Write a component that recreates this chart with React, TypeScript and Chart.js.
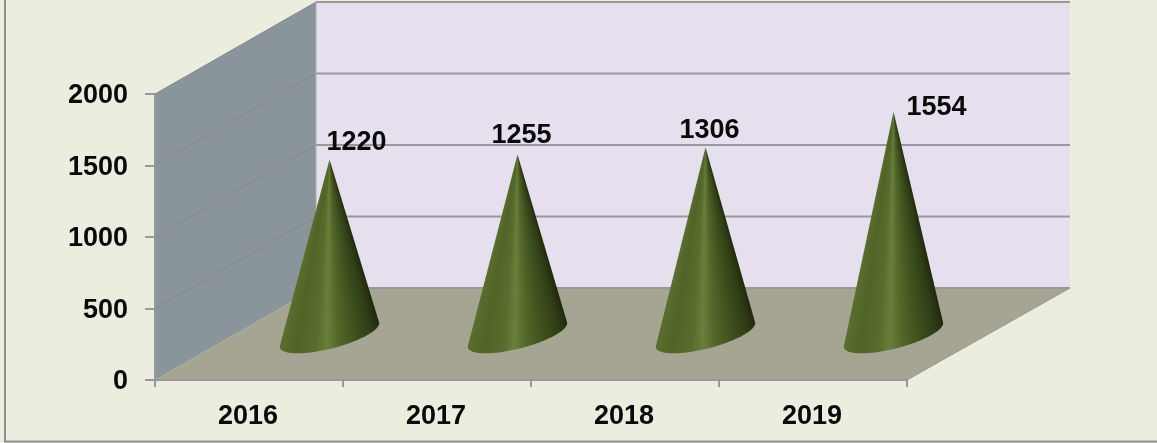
import React, { useEffect, useRef } from "react";
import { Chart, registerables } from "chart.js";

Chart.register(...registerables);

const categories = ["2016", "2017", "2018", "2019"];
const values = [1220, 1255, 1306, 1554];
const yTicks = [0, 500, 1000, 1500, 2000];
const labelOffsets = [[27, -17], [4, -19], [4, -17], [43, -4]];

const FONT = '"Liberation Sans", Arial, sans-serif';
const BG = "#ebeedf";
const BACK = "#e6e0ee";
const SIDE = "#89959b";
const FLOOR = "#a6a593";
const LINE = "#98979b";
const DEPTH_X = 161;
const DEPTH_Y = -92;
const CONE_DX = 80.5;
const CONE_DY = -46;
const LEFT = 155, RIGHT = 907, TOP = 94, BOTTOM = 380;

const coneStops: [number, string][] = [
  [0, "#20290c"], [0.1, "#2f3d15"], [0.3, "#42541f"], [0.45, "#546829"],
  [0.56, "#6a7f3b"], [0.66, "#586c2c"], [0.85, "#516428"], [1, "#5a6e2e"],
];

function drawCone(ctx: CanvasRenderingContext2D, ax: number, ay: number, cx: number, cy: number) {
  const ux = 38, vx = 32, vy = -18.3;
  const pts: [number, number][] = [];
  const N = 240;
  for (let i = 0; i < N; i++) {
    const t = (i / N) * Math.PI * 2;
    pts.push([cx + Math.cos(t) * ux + Math.sin(t) * vx, cy + Math.sin(t) * vy]);
  }
  const ang = (p: [number, number]) => Math.atan2(p[1] - ay, p[0] - ax);
  let ri = 0, li = 0;
  pts.forEach((p, i) => {
    if (ang(p) < ang(pts[ri])) ri = i;
    if (ang(p) > ang(pts[li])) li = i;
  });
  const a0 = ang(pts[ri]), a1 = ang(pts[li]);
  const g = (ctx as any).createConicGradient(a0, ax, ay);
  const span = (a1 - a0) / (Math.PI * 2);
  coneStops.forEach(([s, c]) => g.addColorStop(s * span, c));
  g.addColorStop(Math.min(1, span + 0.001), coneStops[coneStops.length - 1][1]);
  g.addColorStop(1, coneStops[0][1]);
  ctx.save();
  ctx.beginPath();
  ctx.moveTo(ax, ay);
  let i = ri;
  ctx.lineTo(pts[i][0], pts[i][1]);
  const step = pts[(ri + 1) % N][1] > pts[ri][1] ? 1 : -1;
  while (i !== li) {
    i = (i + step + N) % N;
    ctx.lineTo(pts[i][0], pts[i][1]);
  }
  ctx.closePath();
  ctx.fillStyle = g;
  ctx.fill();
  ctx.restore();
}

const scene = {
  id: "scene",
  beforeDraw(chart: any) {
    const { ctx, width, height } = chart;
    const y = chart.scales.y, x = chart.scales.x;
    const l = x.left, r = x.right, b = y.bottom, t = y.top;
    ctx.save();
    ctx.fillStyle = BG;
    ctx.fillRect(0, 0, width, height);
    ctx.strokeStyle = "#8e8f8b";
    ctx.lineWidth = 2;
    ctx.beginPath();
    ctx.moveTo(5, 0);
    ctx.lineTo(5, 441.5);
    ctx.lineTo(width, 441.5);
    ctx.stroke();
    ctx.fillStyle = BACK;
    ctx.fillRect(l + DEPTH_X, t + DEPTH_Y, r + 2 - l, b - t);
    ctx.fillStyle = SIDE;
    ctx.beginPath();
    ctx.moveTo(l, t);
    ctx.lineTo(l + DEPTH_X, t + DEPTH_Y);
    ctx.lineTo(l + DEPTH_X, b + DEPTH_Y);
    ctx.lineTo(l, b);
    ctx.closePath();
    ctx.fill();
    ctx.fillStyle = FLOOR;
    ctx.beginPath();
    ctx.moveTo(l, b);
    ctx.lineTo(r, b);
    ctx.lineTo(r + DEPTH_X + 2, b + DEPTH_Y);
    ctx.lineTo(l + DEPTH_X, b + DEPTH_Y);
    ctx.closePath();
    ctx.fill();
    yTicks.forEach((v) => {
      const py = y.getPixelForValue(v);
      ctx.strokeStyle = "#87888c";
      ctx.lineWidth = 1;
      if (v > 0) {
        ctx.beginPath();
        ctx.moveTo(l, py);
        ctx.lineTo(l + DEPTH_X, py + DEPTH_Y);
        ctx.stroke();
      }
      ctx.strokeStyle = LINE;
      ctx.lineWidth = 2;
      ctx.beginPath();
      ctx.moveTo(l + DEPTH_X, py + DEPTH_Y);
      ctx.lineTo(r + DEPTH_X + 2, py + DEPTH_Y);
      ctx.stroke();
    });
    ctx.strokeStyle = "#a8adb0";
    ctx.lineWidth = 1;
    ctx.beginPath();
    ctx.moveTo(l + DEPTH_X, t + DEPTH_Y);
    ctx.lineTo(l + DEPTH_X, b + DEPTH_Y);
    ctx.stroke();
    ctx.strokeStyle = LINE;
    ctx.lineWidth = 1;
    ctx.beginPath();
    ctx.moveTo(r, b);
    ctx.lineTo(r + DEPTH_X + 2, b + DEPTH_Y);
    ctx.stroke();
    ctx.restore();
  },
  afterDatasetsDraw(chart: any) {
    const { ctx } = chart;
    const meta = chart.getDatasetMeta(0);
    const zero = chart.scales.y.getPixelForValue(0);
    meta.data.forEach((el: any) => {
      const ax = el.x + CONE_DX;
      const ay = el.y + CONE_DY;
      drawCone(ctx, ax, ay, ax, zero + CONE_DY + 1);
    });
    ctx.save();
    ctx.fillStyle = "#0a0a0a";
    ctx.font = `bold 27px ${FONT}`;
    ctx.textAlign = "center";
    ctx.textBaseline = "middle";
    meta.data.forEach((el: any, i: number) => {
      const [ox, oy] = labelOffsets[i];
      ctx.fillText(String(values[i]), el.x + CONE_DX + ox, el.y + CONE_DY + oy);
    });
    ctx.restore();
  },
};

export default function App() {
  const ref = useRef<HTMLCanvasElement>(null);
  useEffect(() => {
    const chart = new Chart(ref.current!, {
      type: "bar",
      data: {
        labels: categories,
        datasets: [{ data: values, backgroundColor: "rgba(0,0,0,0)", borderWidth: 0 }],
      },
      options: {
        animation: false,
        responsive: false,
        layout: { padding: { top: TOP, right: 1157 - RIGHT, left: 0, bottom: 0 } },
        plugins: { legend: { display: false }, tooltip: { enabled: false } },
        scales: {
          x: {
            offset: true,
            afterFit: (s: any) => { s.height = 443 - BOTTOM; },
            grid: { offset: true, drawOnChartArea: false, tickLength: 7, color: LINE, lineWidth: 2 },
            border: { color: LINE, width: 2 },
            ticks: { color: "#0a0a0a", font: { family: FONT, size: 27, weight: "bold" }, padding: 13, maxRotation: 0, labelOffset: -1 },
          },
          y: {
            min: 0,
            max: 2000,
            afterFit: (s: any) => { s.width = LEFT; },
            afterBuildTicks: (s: any) => { s.ticks = yTicks.map((value) => ({ value })); },
            grid: { drawOnChartArea: false, tickLength: 10, color: LINE, lineWidth: 2 },
            border: { color: LINE, width: 2 },
            ticks: { color: "#0a0a0a", font: { family: FONT, size: 27, weight: "bold" }, padding: 17, labelOffset: 2, callback: (v: any) => String(v) },
          },
        },
      },
      plugins: [scene],
    } as any);
    return () => chart.destroy();
  }, []);
  return (
    <div style={{ position: "fixed", left: 0, top: 0, width: 1157, height: 443 }}>
      <canvas ref={ref} width={1157} height={443} style={{ display: "block" }} />
    </div>
  );
}
